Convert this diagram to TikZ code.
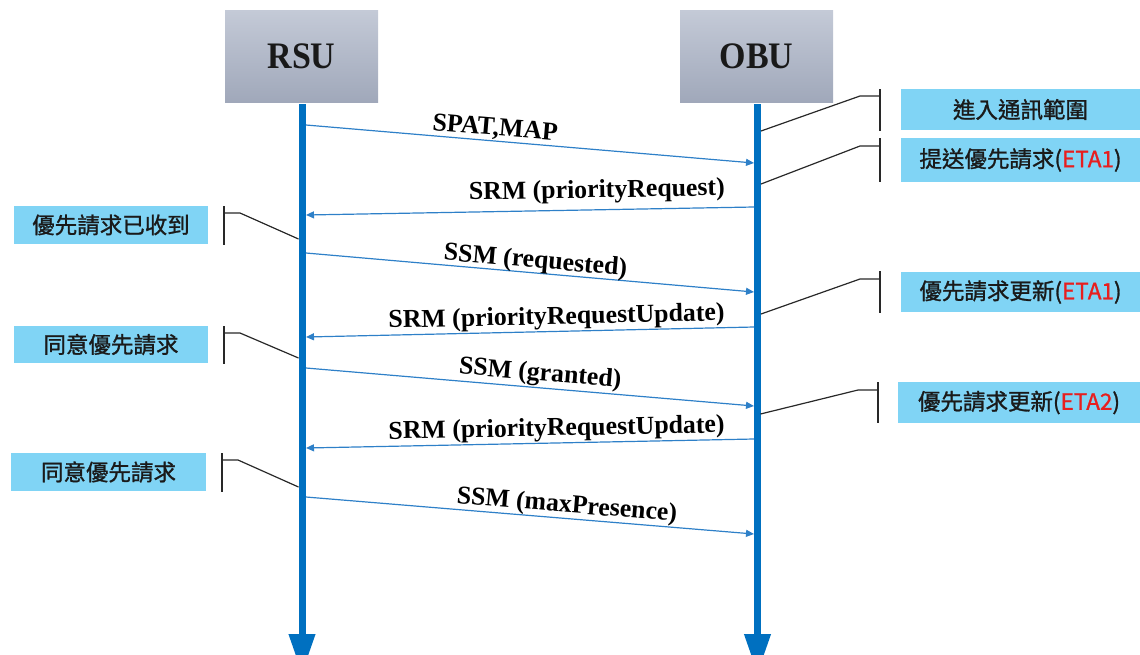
\documentclass[tikz,border=0pt]{standalone}
\usepackage{fontspec}
\setmainfont{Liberation Serif}
\newfontfamily\cjk{Noto Sans CJK TC}[FakeBold=1.2]
\usetikzlibrary{arrows.meta}
\definecolor{lifeblue}{RGB}{0,112,192}
\definecolor{msgblue}{RGB}{46,128,200}
\definecolor{noteblue}{RGB}{128,212,245}
\definecolor{boxtop}{RGB}{196,202,215}
\definecolor{boxbot}{RGB}{160,168,186}
\definecolor{etared}{RGB}{232,30,30}
\definecolor{notetext}{RGB}{26,26,26}
\definecolor{bracketgray}{RGB}{40,40,40}
\newcommand{\etatag}[1]{\textcolor{etared}{#1}}
\newcommand{\actorname}[1]{\raisebox{-1.5pt}{\scalebox{1}[1.1]{#1}}}
\begin{document}
\begin{tikzpicture}[x=1pt,y=-1pt,
  actor/.style={minimum width=153pt,minimum height=92pt,inner sep=0pt,
    top color=boxtop,bottom color=boxbot,text=black!90,
    font=\fontsize{34}{40}\selectfont\bfseries},
  lifeline/.style={draw=lifeblue,line width=7pt,
    -{Triangle[width=25pt,length=40pt]}},
  msg/.style={draw=msgblue,line width=1.2pt,
    -{Triangle[length=8pt,width=7pt]}},
  msglabel/.style={inner sep=0pt,sloped,text=black,
    font=\fontsize{25.8}{30}\selectfont\bfseries},
  note/.style={fill=noteblue,inner sep=0pt,text=notetext,
    font=\cjk\fontsize{22.5}{27}\selectfont},
  bracket/.style={draw=bracketgray,line width=1.2pt}]
\useasboundingbox (0,0) rectangle (1140,654);

% participants
\node[actor] (rsu) at (301.5,56) {\actorname{RSU}};
\node[actor] (obu) at (756.5,56) {\actorname{OBU}};

% lifelines
\coordinate (rsutop) at (302,104);
\coordinate (rsuend) at (302,674);
\coordinate (obutop) at (757.5,104);
\coordinate (obuend) at (757.5,674);
\draw[lifeline] (rsutop) -- (rsuend);
\draw[lifeline] (obutop) -- (obuend);

% message end points on the lifelines
\coordinate (r1) at (306,125);   \coordinate (o1) at (754,163);
\coordinate (o2) at (754,207);   \coordinate (r2) at (306,215);
\coordinate (r3) at (306,253);   \coordinate (o3) at (754,292);
\coordinate (o4) at (754,327);   \coordinate (r4) at (306,337);
\coordinate (r5) at (306,368);   \coordinate (o5) at (754,406);
\coordinate (o6) at (754,439);   \coordinate (r6) at (306,448);
\coordinate (r7) at (306,497);   \coordinate (o7) at (754,534);

% messages
\draw[msg] (r1) -- node[msglabel,pos=0.42,above=1pt] {SPAT,MAP} (o1);
\draw[msg] (o2) -- node[msglabel,pos=0.35,above=6pt] {SRM (priorityRequest)} (r2);
\draw[msg] (r3) -- node[msglabel,pos=0.51,above=-1pt] {SSM (requested)} (o3);
\draw[msg] (o4) -- node[msglabel,pos=0.44,above=1pt] {SRM (priorityRequestUpdate)} (r4);
\draw[msg] (r5) -- node[msglabel,pos=0.52,above=1pt] {SSM (granted)} (o5);
\draw[msg] (o6) -- node[msglabel,pos=0.44,above=1pt] {SRM (priorityRequestUpdate)} (r6);
\draw[msg] (r7) -- node[msglabel,pos=0.58,above=0pt] {SSM (maxPresence)} (o7);

% notes on the OBU side
\node[note,minimum width=239pt,minimum height=41pt] (n1) at (1020.5,109.5) {進入通訊範圍};
\node[note,minimum width=239pt,minimum height=44pt] (n2) at (1020.5,160) {提送優先請求(\etatag{ETA1})};
\node[note,minimum width=239pt,minimum height=40pt] (n3) at (1020.5,292) {優先請求更新(\etatag{ETA1})};
\node[note,minimum width=242pt,minimum height=41pt] (n4) at (1019,402.5) {優先請求更新(\etatag{ETA2})};

% notes on the RSU side
\node[note,minimum width=194pt,minimum height=38pt] (m1) at (111,225) {優先請求已收到};
\node[note,minimum width=194pt,minimum height=37pt] (m2) at (111,344.5) {同意優先請求};
\node[note,minimum width=195pt,minimum height=38pt] (m3) at (108.5,472) {同意優先請求};

% brackets tying the OBU notes to the lifeline
\coordinate (a1) at (761,131);
\coordinate (a2) at (761,184);
\coordinate (a3) at (761,314);
\coordinate (a4) at (760.5,414);
\draw[bracket] (880,89) -- (880,131);
\draw[bracket] (a1) -- (860,96) -- (880,96);
\draw[bracket] (880,138) -- (880,182);
\draw[bracket] (a2) -- (860,146) -- (880,146);
\draw[bracket] (880,271) -- (880,313);
\draw[bracket] (a3) -- (860,279) -- (880,279);
\draw[bracket] (878,382) -- (878,423);
\draw[bracket] (a4) -- (858,390) -- (878,390);

% brackets tying the RSU notes to the lifeline
\coordinate (b1) at (298.5,239);
\coordinate (b2) at (298.5,358);
\coordinate (b3) at (298.5,487);
\draw[bracket] (224,206) -- (224,245);
\draw[bracket] (b1) -- (240,213) -- (224,213);
\draw[bracket] (224,326) -- (224,364);
\draw[bracket] (b2) -- (240,333) -- (224,333);
\draw[bracket] (222,453) -- (222,492);
\draw[bracket] (b3) -- (238,460) -- (222,460);
\end{tikzpicture}
\end{document}
